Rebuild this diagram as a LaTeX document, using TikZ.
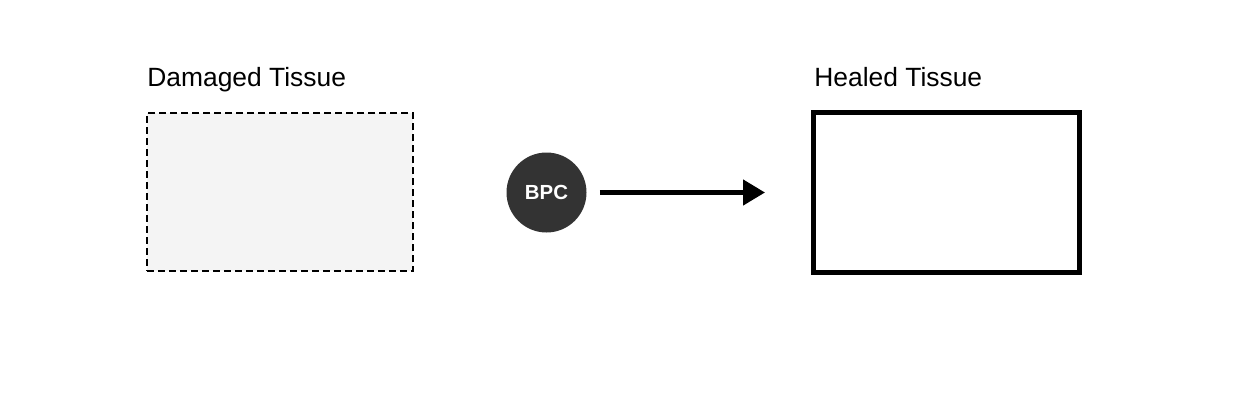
\documentclass[tikz,border=0pt]{standalone}
\usepackage{fontspec}
\setmainfont{Liberation Sans}
\usetikzlibrary{arrows.meta}
\definecolor{tissuefill}{HTML}{F4F4F4}
\definecolor{bpcfill}{HTML}{333333}
\tikzset{
  lbl/.style={anchor=base west, inner sep=0pt, font=\fontsize{13.2pt}{15pt}\selectfont},
  damagedbox/.style={draw=black, fill=tissuefill, line width=1.4pt, dash pattern=on 3.5pt off 2pt, minimum width=133pt, minimum height=79pt, inner sep=0pt},
  healedbox/.style={draw=black, fill=white, line width=2.5pt, minimum width=133pt, minimum height=80pt, inner sep=0pt},
  agent/.style={circle, fill=bpcfill, minimum size=40pt, inner sep=0pt, text=white, font=\fontsize{10.2pt}{12pt}\selectfont\bfseries},
  flow/.style={line width=2.3pt, -{Triangle[length=11pt, width=12.5pt]}}
}
\begin{document}
\begin{tikzpicture}[x=0.5pt, y=-0.5pt]
\useasboundingbox (0,0) rectangle (1242,408);
\node[lbl] (damagedlabel) at (147,86) {Damaged Tissue};
\node[damagedbox] (damaged) at (280,192) {};
\node[agent] (bpc) at (546.5,192.5) {BPC};
\node[lbl] (healedlabel) at (814,86) {Healed Tissue};
\node[healedbox] (healed) at (946.5,192.5) {};
\draw[flow, shorten <=6.5pt, shorten >=23pt] (bpc.east) -- (healed.west);
\end{tikzpicture}
\end{document}
